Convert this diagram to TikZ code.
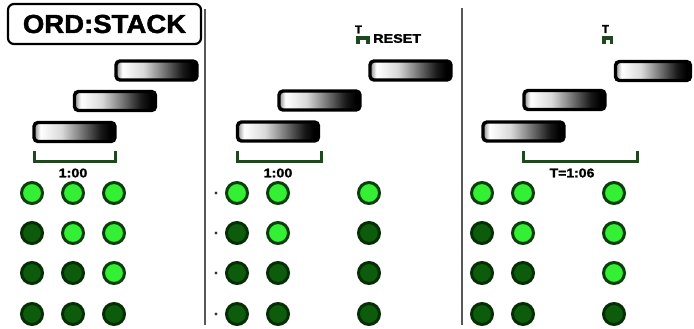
\documentclass[tikz,border=0pt]{standalone}
\usepackage{fontspec}
\setmainfont{Liberation Sans}
\newfontfamily\heavyfont[BoldFeatures={FakeBold=1.6}]{Liberation Sans}
\usepackage{graphicx}
\usetikzlibrary{shadings}
\definecolor{ledbright}{RGB}{52,240,52}
\definecolor{ledbrightring}{RGB}{10,62,10}
\definecolor{leddark}{RGB}{12,92,12}
\definecolor{leddarkring}{RGB}{5,46,5}
\definecolor{bracketgreen}{RGB}{30,72,30}
\definecolor{divgray}{RGB}{88,88,88}
\pgfdeclarehorizontalshading{barshade}{100bp}{color(0bp)=(black!45); color(25bp)=(black!45); color(29bp)=(white); color(42bp)=(black!15); color(66bp)=(black!90); color(72bp)=(black); color(100bp)=(black)}
\begin{document}
\begin{tikzpicture}[x=1pt,y=-1pt,
  titlebox/.style={draw=black,line width=2.2pt,rounded corners=6pt,minimum width=193pt,minimum height=40pt,inner sep=0pt,fill=white},
  bar/.style={draw=black,line width=3.4pt,rounded corners=4pt,shading=barshade,minimum width=81pt,minimum height=19pt,inner sep=0pt},
  ledon/.style={circle,draw=ledbrightring,line width=3pt,fill=ledbright,minimum size=21pt,inner sep=0pt},
  ledoff/.style={circle,draw=leddarkring,line width=3pt,fill=leddark,minimum size=21pt,inner sep=0pt},
  dotmark/.style={circle,fill=black!80,minimum size=3.2pt,inner sep=0pt},
  lbl/.style={font=\heavyfont\bfseries\fontsize{12.5}{13}\selectfont,inner sep=0pt},
  tlbl/.style={font=\heavyfont\bfseries\fontsize{11.5}{12}\selectfont,inner sep=0pt},
  bracket/.style={draw=bracketgreen,line width=3pt},
  pulse/.style={draw=bracketgreen,line width=3.2pt},
  divider/.style={draw=divgray,line width=2pt}]
\useasboundingbox (0,0) rectangle (694,329);
% title
\node[titlebox] (title) at (104.5,24) {\scalebox{1.06}[1]{\heavyfont\bfseries\fontsize{26}{26}\selectfont ORD:STACK}};
% dividers
\coordinate (d1t) at (205,9); \coordinate (d1b) at (205,325);
\coordinate (d2t) at (462,8); \coordinate (d2b) at (462,325);
\draw[divider] (d1t) -- (d1b);
\draw[divider] (d2t) -- (d2b);
% panel 1 bars
\node[bar] (p1b3) at (156.5,70.5) {};
\node[bar] (p1b2) at (115,101) {};
\node[bar] (p1b1) at (74.5,132) {};
% panel 2 bars
\node[bar] (p2b3) at (410.5,70.5) {};
\node[bar] (p2b2) at (319.5,100.5) {};
\node[bar] (p2b1) at (278,131.5) {};
% panel 3 bars
\node[bar,minimum width=75pt] (p3b3) at (653,71) {};
\node[bar] (p3b2) at (564.5,100) {};
\node[bar] (p3b1) at (523.5,131.5) {};
% brackets
\draw[bracket] (34,151) -- (34,161) -- (115,161) -- (115,151);
\draw[bracket] (237,151) -- (237,161) -- (321,161) -- (321,151);
\draw[bracket] (523,151) -- (523,161) -- (637,161) -- (637,151);
\node[lbl] (l1) at (73,173) {\scalebox{1.15}[1]{1:00}};
\node[lbl] (l2) at (278,173) {\scalebox{1.15}[1]{1:00}};
\node[lbl] (l3) at (572,173) {\scalebox{1.12}[1]{T=1:06}};
% reset pulses
\node[tlbl] (t1) at (358.5,29.5) {T};
\draw[pulse] (358,44.5) -- (358,38) -- (368,38) -- (368,44.5);
\node[lbl,anchor=west] (reset) at (373,38.5) {\scalebox{1.15}[1]{RESET}};
\node[tlbl] (t2) at (605.5,29) {T};
\draw[pulse] (604,44.5) -- (604,38) -- (611.5,38) -- (611.5,44.5);
% panel 1 leds
\foreach \x/\y/\s [count=\i] in {
  32/193/ledon, 73/193/ledon, 114/193/ledon,
  32/233/ledoff, 73/233/ledon, 114/233/ledon,
  32/273/ledoff, 73/273/ledoff, 114/273/ledon,
  32/314/ledoff, 73/314/ledoff, 114/314/ledoff}
  \node[\s] (a\i) at (\x,\y) {};
% panel 2 leds
\foreach \x/\y/\s [count=\i] in {
  237/193/ledon, 278/193/ledon, 369/193/ledon,
  237/233/ledoff, 278/233/ledon, 369/233/ledoff,
  237/273/ledoff, 278/273/ledoff, 369/273/ledoff,
  237/314/ledoff, 278/314/ledoff, 369/314/ledoff}
  \node[\s] (b\i) at (\x,\y) {};
% panel 3 leds
\foreach \x/\y/\s [count=\i] in {
  482/193/ledon, 523/193/ledon, 614/193/ledon,
  482/233/ledoff, 523/233/ledon, 614/233/ledon,
  482/273/ledoff, 523/273/ledoff, 614/273/ledon,
  482/314/ledoff, 523/314/ledoff, 614/314/ledoff}
  \node[\s] (c\i) at (\x,\y) {};
% dots
\foreach \y [count=\i] in {193,233,273,314}
  \node[dotmark] (dot\i) at (216,\y) {};
\end{tikzpicture}
\end{document}
